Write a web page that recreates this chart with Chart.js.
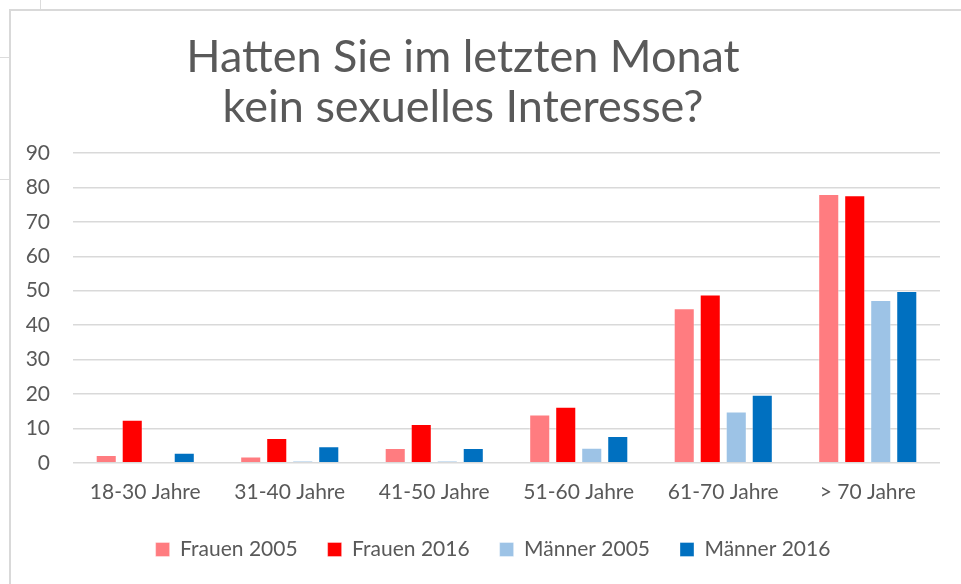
<!DOCTYPE html>
<html>
<head>
<meta charset="utf-8">
<script src="https://cdn.jsdelivr.net/npm/chart.js@4.4.1/dist/chart.umd.min.js"></script>
<style>
  html,body{margin:0;padding:0;background:#fff;}
  body{width:961px;height:584px;position:relative;overflow:hidden;}
  .ln{position:absolute;background:#dcdcdc;}
  #frame{position:absolute;left:9px;top:9px;right:-5px;bottom:-5px;border-left:2px solid #d9d9d9;border-top:2px solid #d9d9d9;}
  #chart{position:absolute;left:-14px;top:0;}
</style>
</head>
<body>
<div class="ln" style="left:40px;top:0;width:1px;height:9px"></div>
<div class="ln" style="left:0;top:57px;width:9px;height:1px"></div>
<div class="ln" style="left:0;top:179px;width:9px;height:1px"></div>
<div id="frame"></div>
<canvas id="chart" width="975" height="584"></canvas>
<script>
const categories = ["18-30 Jahre","31-40 Jahre","41-50 Jahre","51-60 Jahre","61-70 Jahre","> 70 Jahre"];
const frauen2005 = [2.3, 1.8, 4.3, 14.0, 44.9, 78.1];
const frauen2016 = [12.5, 7.2, 11.3, 16.3, 48.9, 77.7];
const maenner2005 = [0, 0.6, 0.5, 4.4, 14.9, 47.3];
const maenner2016 = [2.9, 4.8, 4.3, 7.8, 19.8, 49.9];
const yTicks = [0,10,20,30,40,50,60,70,80,90];

const FONT = "Lato, 'Open Sans', sans-serif";
const GREY = "#595959";

const ds = (label, data, color) => ({
  label, data,
  backgroundColor: color,
  borderColor: "rgba(255,255,255,0.35)",
  borderWidth: 1,
  categoryPercentage: 0.72,
  barPercentage: 0.81
});

// Excel puts the legend a bit right of centre and a bit higher
const legendShift = {
  id: "legendShift",
  afterLayout(chart) {
    const l = chart.legend;
    l.left += 30; l.right += 30;
    l.top -= 5; l.bottom -= 5;
  }
};

new Chart(document.getElementById("chart"), {
  type: "bar",
  data: {
    labels: categories,
    datasets: [
      ds("Frauen 2005", frauen2005, "#FF7C80"),
      ds("Frauen 2016", frauen2016, "#FF0000"),
      ds("Männer 2005", maenner2005, "#9DC3E6"),
      ds("Männer 2016", maenner2016, "#0070C0")
    ]
  },
  plugins: [legendShift],
  options: {
    responsive: false,
    animation: false,
    layout: { padding: { top: 32, right: 21, bottom: 9, left: 0 } },
    plugins: {
      title: {
        display: true,
        text: ["Hatten Sie im letzten Monat", "kein sexuelles Interesse?"],
        color: GREY,
        font: { family: FONT, size: 45, weight: "normal", lineHeight: 50 / 45 },
        padding: { top: 0, bottom: 21 }
      },
      legend: {
        position: "bottom",
        labels: {
          color: GREY,
          font: { family: FONT, size: 21 },
          boxWidth: 14,
          boxHeight: 14,
          padding: 30
        }
      },
      tooltip: { enabled: false }
    },
    scales: {
      x: {
        grid: { display: false },
        border: { display: false },
        ticks: { color: GREY, font: { family: FONT, size: 21 }, padding: 9 }
      },
      y: {
        min: 0, max: 90,
        afterBuildTicks: s => { s.ticks = yTicks.map(v => ({ value: v })); },
        afterFit: s => { s.width = 87; },
        grid: { color: "#d9d9d9", lineWidth: 1.5, drawTicks: false },
        border: { display: false },
        ticks: { color: GREY, font: { family: FONT, size: 21 }, padding: 23 }
      }
    }
  }
});
</script>
</body>
</html>
